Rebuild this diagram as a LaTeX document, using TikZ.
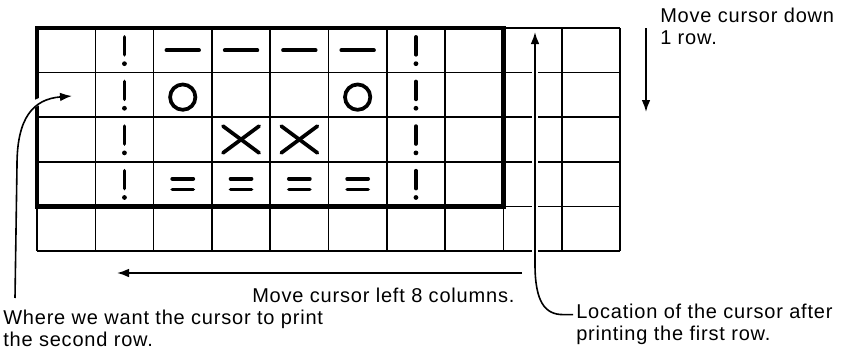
\documentclass[tikz,border=0pt]{standalone}
\usepackage{fontspec}
\setmainfont{Liberation Sans}[LetterSpace=4]
\usetikzlibrary{positioning,arrows.meta,calc}

\begin{document}
\begin{tikzpicture}[x=0.75pt, y=-0.75pt,
  thingrid/.style={line width=1.2pt},
  frame/.style={line width=3.4pt},
  glyph/.style={line width=2.8pt, line cap=round},
  pointer/.style={line width=1.2pt, -{Latex[length=9pt,width=6.5pt]}},
  knockout/.style={draw=white, line width=5pt},
  caption/.style={font=\fontsize{15}{16.5}\selectfont, align=left, inner sep=0pt}]

\useasboundingbox (0,0) rectangle (858,357);

% Grid of 10 x 5 print cells, one unit per cell
\begin{scope}[shift={(37,28)}, x=43.725pt, y=-33.45pt]
  \foreach \i in {0,...,10}
    \draw[thingrid] (\i,0) -- (\i,5);
  \foreach \j in {0,...,5}
    \draw[thingrid] (0,\j) -- (10,\j);
  \draw[frame] (0,0) rectangle (8,4);

  % side bars
  \foreach \c in {1,6}
    \foreach \r in {0,...,3} {
      \draw[glyph] (\c+0.5,\r+0.2) -- (\c+0.5,\r+0.6);
      \fill (\c+0.5,\r+0.8) circle (1.8pt);
    }
  % top row
  \foreach \c in {2,...,5}
    \draw[glyph] (\c+0.22,0.5) -- (\c+0.78,0.5);
  % second row
  \foreach \c in {2,5}
    \draw[glyph] (\c+0.5,1.55) circle (9.5pt);
  % third row
  \foreach \c in {3,4} {
    \draw[glyph] (\c+0.19,2.2) -- (\c+0.81,2.8);
    \draw[glyph] (\c+0.19,2.8) -- (\c+0.81,2.2);
  }
  % bottom row
  \foreach \c in {2,...,5} {
    \draw[glyph] (\c+0.32,3.38) -- (\c+0.68,3.38);
    \draw[glyph] (\c+0.32,3.62) -- (\c+0.68,3.62);
  }
\end{scope}

% Labels
\node[caption, anchor=north west] (down) at (660,8) {Move cursor down\\1 row.};
\node[caption, anchor=base west] (left) at (252,302) {Move cursor left 8 columns.};
\node[caption, anchor=north west] (where) at (3,310) {Where we want the cursor to print\\the second row.};
\node[caption, anchor=north west] (loc) at (576,304) {Location of the cursor after\\printing the first row.};

% Cursor moves
\coordinate (downtop) at (646,28);
\coordinate (downend) at (646,112);
\coordinate (leftstart) at (522,273);
\coordinate (leftend) at (117,273);
\coordinate (wherefoot) at (15,298);
\coordinate (firstcell) at (72,96);
\coordinate (lastcell) at (535,32);
\coordinate (locfoot) at ($(loc.west)+(-3,-10)$);

\draw[pointer] (downtop) -- (downend);
\draw[pointer] (leftstart) -- (leftend);

\draw[knockout] (535,42) -- (535,262);
\draw[pointer] (locfoot) -- ++(-10,0)
  .. controls ($(locfoot)+(-28,0)$) and (535,302) .. (535,264) -- (lastcell);

\draw[knockout] (17,140) .. controls (17,112) and (30,100) .. (60,97);
\draw[pointer] (wherefoot) -- (17,165)
  .. controls (17,118) and (33,99) .. (firstcell);

\end{tikzpicture}
\end{document}
